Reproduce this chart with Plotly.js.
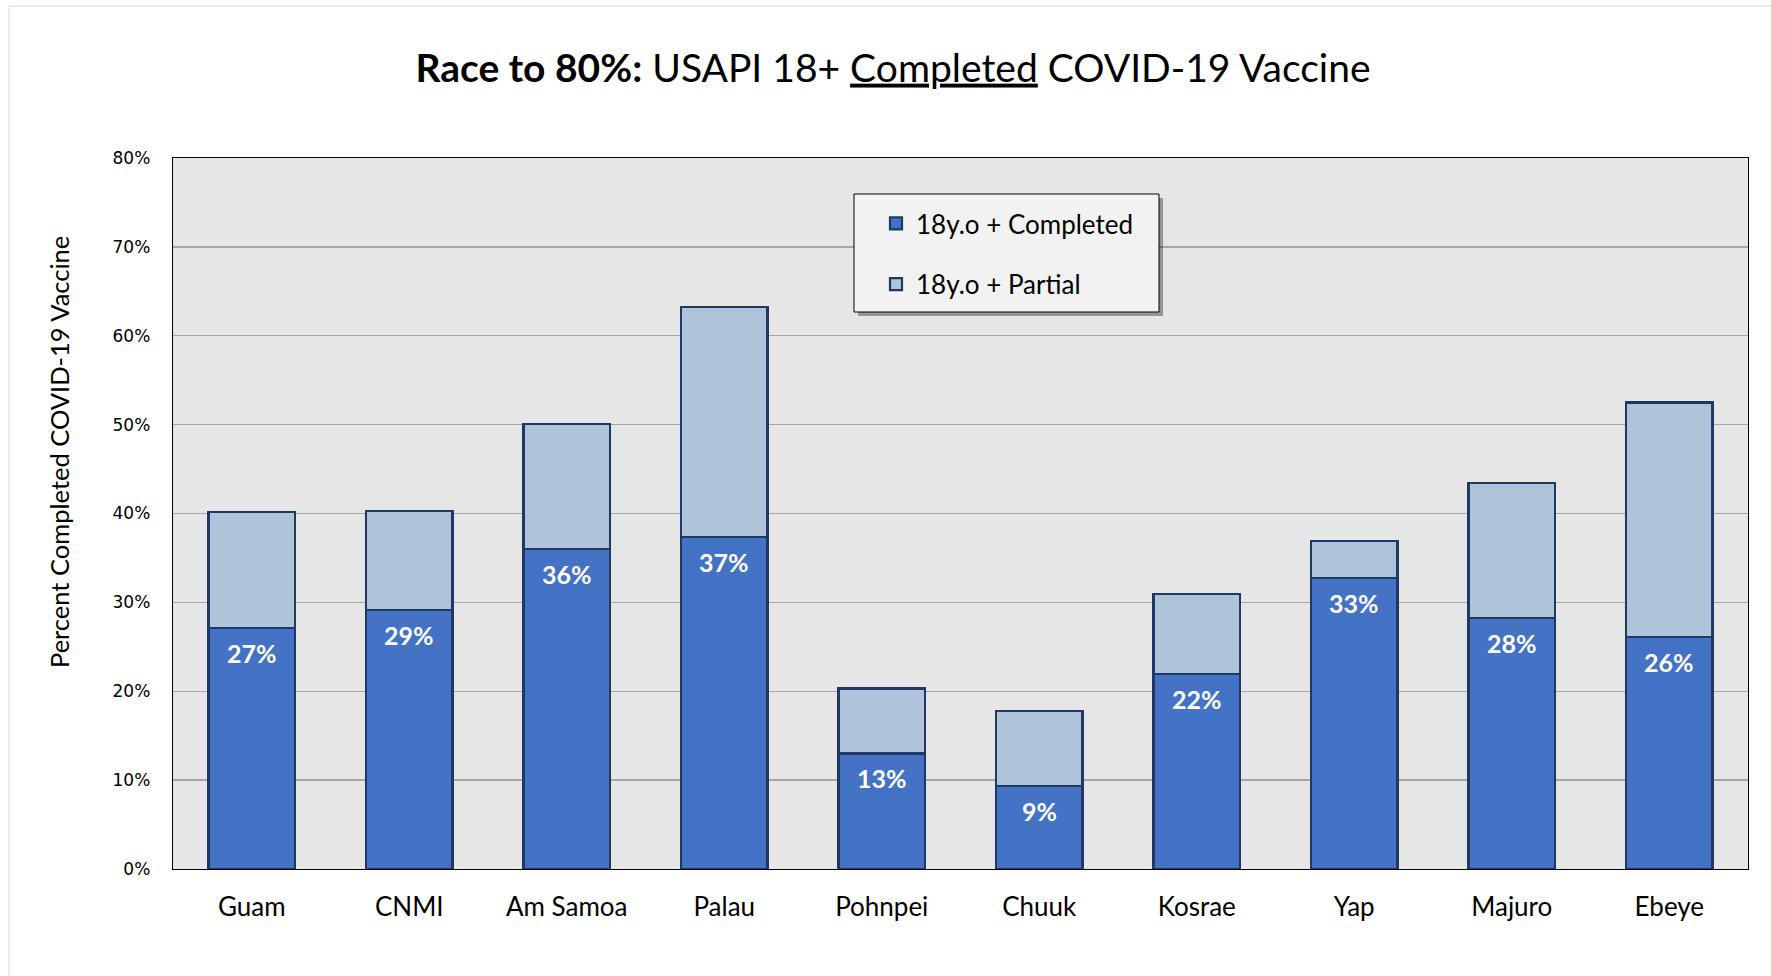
<!DOCTYPE html>
<html>
<head>
<meta charset="utf-8">
<script src="https://cdn.plot.ly/plotly-3.0.1.min.js"></script>
<style>
html,body{margin:0;padding:0;background:#fff;}
#chart{width:1771px;height:976px;}
</style>
</head>
<body>
<div id="chart"></div>
<script>
const categories = ["Guam","CNMI","Am Samoa","Palau","Pohnpei","Chuuk","Kosrae","Yap","Majuro","Ebeye"];
const completed = [27.1, 29.1, 36.0, 37.4, 13.0, 9.3, 21.9, 32.7, 28.2, 26.1];
const partial = [13.1, 11.2, 14.1, 25.8, 7.3, 8.5, 9.0, 4.2, 15.2, 26.4];
const seriesNames = ["18y.o + Completed", "18y.o + Partial"];
const yTicks = [0,10,20,30,40,50,60,70,80];

const L = 173, R = 1748, T = 158, B = 869;
const W = 1771, H = 976;
const pw = R - L, ph = B - T;
const px = x => (x - L) / pw;
const py = y => (B - y) / ph;

const lineCol = '#1f3864';
const traces = [
  {type:'bar', x:categories, y:completed, name:seriesNames[0], legendgroup:'a',
   marker:{color:'#4472c4', line:{color:lineCol, width:2.2}}, width:0.55, hoverinfo:'x+y'},
  {type:'bar', x:categories, y:partial, name:seriesNames[1], legendgroup:'b',
   marker:{color:'#afc3d9', line:{color:lineCol, width:2.2}}, width:0.55, hoverinfo:'x+y'}
];

const annotations = categories.map((c,i)=>({
  x:c, y:completed[i], xref:'x', yref:'y', text:'<b>'+Math.round(completed[i])+'%</b>',
  showarrow:false, yanchor:'middle', yshift:-25,
  font:{family:'Lato, "Open Sans", sans-serif', size:25, color:'#ffffff'}
}));
annotations.push({
  xref:'paper', yref:'paper', x:px(59), y:py(452), text:'Percent Completed COVID-19 Vaccine',
  textangle:-90, showarrow:false, xanchor:'center', yanchor:'middle',
  font:{family:'Lato, "Open Sans", sans-serif', size:25.5, color:'#000'}
});

const shapes = [
  {type:'rect', xref:'paper', yref:'paper', x0:px(9), x1:px(1790), y0:py(1000), y1:py(6),
   line:{color:'#d9d9d9', width:1}, fillcolor:'rgba(0,0,0,0)', layer:'below'},
  {type:'rect', xref:'paper', yref:'paper', x0:px(858), x1:px(1163), y0:py(316), y1:py(198),
   line:{width:0}, fillcolor:'rgba(0,0,0,0.35)', layer:'above'},
  {type:'rect', xref:'paper', yref:'paper', x0:px(854), x1:px(1159), y0:py(312), y1:py(194),
   line:{color:'#000', width:1}, fillcolor:'#f2f2f2', layer:'above'}
];

const layout = {
  width:W, height:H,
  margin:{l:L, r:W-R, t:T, b:H-B, pad:0},
  paper_bgcolor:'#ffffff', plot_bgcolor:'#e6e6e6',
  barmode:'stack', bargap:0.45,
  title:{text:'<b>Race to 80%:</b> USAPI 18+ <u>Completed</u> COVID-19 Vaccine',
    x:893/W, xanchor:'center', xref:'container', y:1-68/H, yanchor:'middle', yref:'container',
    font:{family:'Lato, "Open Sans", sans-serif', size:39, color:'#000'}},
  xaxis:{type:'category', showgrid:false, showline:true, mirror:true, linecolor:'#000', linewidth:1.3,
    ticks:'outside', ticklen:14, tickcolor:'rgba(0,0,0,0)',
    tickfont:{family:'Lato, "Open Sans", sans-serif', size:26, color:'#000'}, fixedrange:true},
  yaxis:{range:[0,80], tickvals:yTicks, ticktext:yTicks.map(v=>v+'%'),
    showgrid:true, gridcolor:'#a6a6a6', gridwidth:1.3,
    showline:true, mirror:true, linecolor:'#000', linewidth:1.3, zeroline:false,
    ticks:'outside', ticklen:18, tickcolor:'rgba(0,0,0,0)',
    tickfont:{family:'"DejaVu Sans", Verdana, sans-serif', size:17, color:'#000'}, fixedrange:true},
  showlegend:true,
  legend:{x:px(876), y:py(200), xanchor:'left', yanchor:'top', bgcolor:'rgba(0,0,0,0)', borderwidth:0,
    traceorder:'grouped', tracegroupgap:24, itemclick:false, itemdoubleclick:false,
    font:{family:'Lato, "Open Sans", sans-serif', size:26, color:'#000'}},
  annotations:annotations,
  shapes:shapes,
  hovermode:false
};

Plotly.newPlot('chart', traces, layout, {displayModeBar:false, staticPlot:true});
</script>
</body>
</html>
